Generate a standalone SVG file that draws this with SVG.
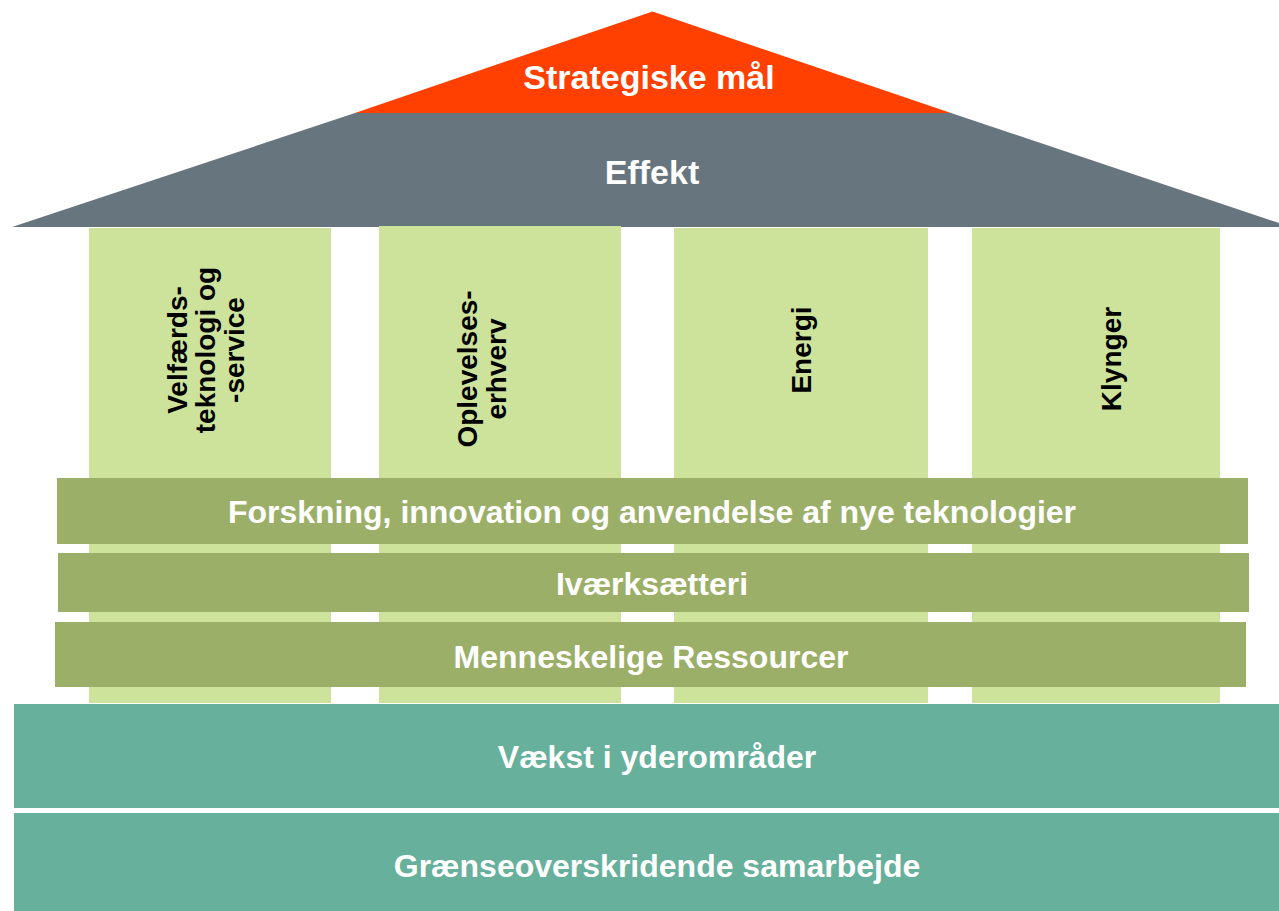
<svg xmlns="http://www.w3.org/2000/svg" width="1279" height="911" viewBox="0 0 1279 911">
<style>
.t{font-family:"Liberation Sans",Arial,sans-serif;font-weight:bold;text-anchor:middle}
.w{fill:#ffffff}
.k{fill:#000000;font-size:28px}
.roof{font-size:34px}
.bar{font-size:32px}
.pillar{fill:#cde39b}
.olive{fill:#9caf68}
.teal{fill:#66b09c}
</style>
<rect width="1279" height="911" fill="#ffffff"/>
<g id="roof-effekt">
<polygon points="355,113 951,113 1279,223 1279,227 12,227" fill="#67757e"/>
<text class="t w roof" x="652" y="184">Effekt</text>
</g>
<g id="roof-strategiske">
<polygon points="652.5,11.5 951,113 355,113" fill="#ff4000"/>
<text class="t w roof" x="649" y="89">Strategiske mål</text>
</g>
<g id="pillar-velfaerd">
<rect class="pillar" x="89" y="228" width="242" height="475"/>
<text class="t k" transform="translate(187,350) rotate(-90)">Velfærds-</text>
<text class="t k" transform="translate(215,350) rotate(-90)">teknologi og</text>
<text class="t k" transform="translate(244,350) rotate(-90)">-service</text>
</g>
<g id="pillar-oplevelse">
<rect class="pillar" x="379" y="226" width="242" height="477"/>
<text class="t k" transform="translate(477,369) rotate(-90)">Oplevelses-</text>
<text class="t k" transform="translate(506,369) rotate(-90)">erhverv</text>
</g>
<g id="pillar-energi">
<rect class="pillar" x="674" y="228" width="254" height="475"/>
<text class="t k" transform="translate(811,350) rotate(-90)">Energi</text>
</g>
<g id="pillar-klynger">
<rect class="pillar" x="972" y="228" width="248" height="475"/>
<text class="t k" transform="translate(1121,359) rotate(-90)">Klynger</text>
</g>
<g id="bar-forskning">
<rect class="olive" x="57" y="478" width="1191" height="66"/>
<text class="t w bar" x="652" y="523">Forskning, innovation og anvendelse af nye teknologier</text>
</g>
<g id="bar-ivaerksaetteri">
<rect class="olive" x="58" y="553" width="1191" height="59"/>
<text class="t w bar" x="652" y="595">Iværksætteri</text>
</g>
<g id="bar-menneskelige">
<rect class="olive" x="55" y="622" width="1191" height="65"/>
<text class="t w bar" x="651" y="668">Menneskelige Ressourcer</text>
</g>
<g id="base-vaekst">
<rect class="teal" x="14" y="704" width="1265" height="104"/>
<text class="t w bar" x="657" y="768">Vækst i yderområder</text>
</g>
<g id="base-graense">
<rect class="teal" x="14" y="813" width="1265" height="98"/>
<text class="t w bar" x="657" y="877">Grænseoverskridende samarbejde</text>
</g>
<g id="connectors"/>
</svg>
